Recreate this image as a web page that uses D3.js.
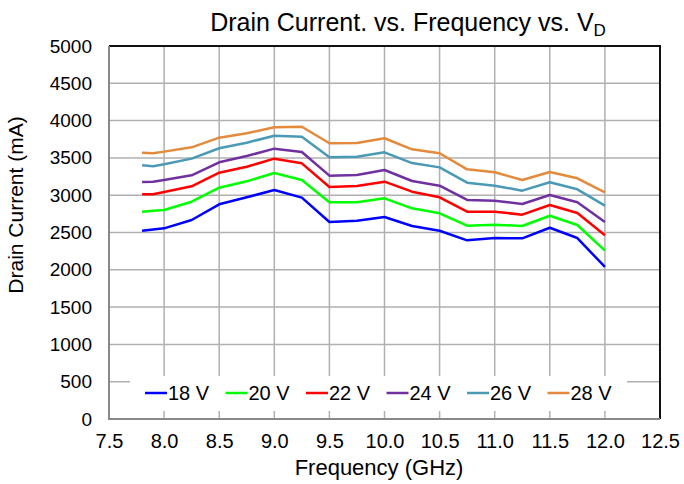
<!DOCTYPE html>
<html>
<head>
<meta charset="utf-8">
<script src="https://cdn.jsdelivr.net/npm/d3@7"></script>
<style>
  body { margin: 0; background: #fff; }
  text { font-family: "Liberation Sans", Arial, sans-serif; fill: #000; }
</style>
</head>
<body>
<svg width="684" height="484"></svg>
<script>
// data
var freqs = [7.8, 7.9, 8.0, 8.25, 8.5, 8.75, 9.0, 9.25, 9.5, 9.75, 10.0, 10.25, 10.5, 10.75, 11.0, 11.25, 11.5, 11.75, 12.0];
var labels = ["18 V", "20 V", "22 V", "24 V", "26 V", "28 V"];
var colors = ["#0000ff", "#00ff00", "#ff0000", "#7030a0", "#4a9ab5", "#e38a3c"];
var v18 = [2524, 2540, 2556, 2668, 2878, 2972, 3070, 2967, 2641, 2658, 2708, 2587, 2524, 2395, 2426, 2422, 2564, 2426, 2038];
var v20 = [2779, 2790, 2802, 2913, 3101, 3186, 3298, 3204, 2905, 2905, 2958, 2824, 2757, 2591, 2605, 2587, 2725, 2601, 2256];
var v22 = [3012, 3012, 3043, 3119, 3302, 3382, 3490, 3427, 3110, 3123, 3181, 3047, 2972, 2779, 2779, 2739, 2869, 2761, 2462];
var v24 = [3177, 3181, 3204, 3266, 3441, 3525, 3624, 3579, 3262, 3271, 3338, 3190, 3128, 2936, 2927, 2882, 3003, 2905, 2641];
var v26 = [3400, 3387, 3415, 3490, 3629, 3704, 3798, 3785, 3508, 3516, 3575, 3431, 3373, 3168, 3128, 3061, 3173, 3079, 2860];
var v28 = [3570, 3562, 3584, 3642, 3771, 3830, 3910, 3918, 3696, 3700, 3763, 3615, 3562, 3347, 3307, 3204, 3311, 3226, 3039];
var series = [v18, v20, v22, v24, v26, v28];
var xTicks = [7.5, 8.0, 8.5, 9.0, 9.5, 10.0, 10.5, 11.0, 11.5, 12.0, 12.5];
var yTicks = [0, 500, 1000, 1500, 2000, 2500, 3000, 3500, 4000, 4500, 5000];

var svg = d3.select("svg");
var pL = 109, pR = 660, pT = 46, pB = 419;

var x = d3.scaleLinear().domain([7.5, 12.5]).range([pL, pR]);
var y = d3.scaleLinear().domain([0, 5000]).range([pB, pT]);

// grid
svg.append("g")
  .selectAll("line")
  .data(xTicks)
  .enter().append("line")
    .attr("x1", function(d) { return x(d); })
    .attr("x2", function(d) { return x(d); })
    .attr("y1", pT).attr("y2", pB)
    .attr("stroke", "#b0b0b0").attr("stroke-width", 1.5);

svg.append("g")
  .selectAll("line")
  .data(yTicks)
  .enter().append("line")
    .attr("y1", function(d) { return y(d); })
    .attr("y2", function(d) { return y(d); })
    .attr("x1", pL).attr("x2", pR)
    .attr("stroke", "#b0b0b0").attr("stroke-width", 1.5);

// frame
svg.append("path")
  .attr("d", "M" + pL + "," + pT + "H" + pR + "V" + pB)
  .attr("fill", "none").attr("stroke", "#111").attr("stroke-width", 2);
svg.append("path")
  .attr("d", "M" + pL + "," + pT + "V" + pB + "H" + pR)
  .attr("fill", "none").attr("stroke", "#888").attr("stroke-width", 2);

// axes labels
var xAxis = svg.append("g")
  .attr("transform", "translate(0," + pB + ")")
  .call(d3.axisBottom(x).tickValues(xTicks).tickSize(0).tickPadding(15)
    .tickFormat(d3.format(".1f")));
xAxis.select(".domain").remove();
xAxis.selectAll("text").attr("font-size", 20).attr("font-family", "Liberation Sans, Arial, sans-serif").attr("fill", "#000");

var yAxis = svg.append("g")
  .attr("transform", "translate(" + pL + ",0)")
  .call(d3.axisLeft(y).tickValues(yTicks).tickSize(0).tickPadding(17)
    .tickFormat(d3.format("d")));
yAxis.select(".domain").remove();
yAxis.selectAll("text").attr("font-size", 19).attr("font-family", "Liberation Sans, Arial, sans-serif").attr("fill", "#000");

// lines
var line = d3.line()
  .x(function(d, i) { return x(freqs[i]); })
  .y(function(d) { return y(d); });

svg.append("g")
  .selectAll("path")
  .data(series)
  .enter().append("path")
    .attr("d", line)
    .attr("fill", "none")
    .attr("stroke", function(d, i) { return colors[i]; })
    .attr("stroke-width", 2.5)
    .attr("stroke-linejoin", "round");

// legend
var lg = svg.append("g");
lg.append("rect")
  .attr("x", 130).attr("y", 376).attr("width", 497).attr("height", 35)
  .attr("fill", "#fff");
var item = lg.selectAll("g")
  .data(labels)
  .enter().append("g")
    .attr("transform", function(d, i) { return "translate(" + (145 + i * 80.5) + ",393)"; });
item.append("line")
  .attr("x1", 0).attr("x2", 22)
  .attr("stroke", function(d, i) { return colors[i]; })
  .attr("stroke-width", 2.5);
item.append("text")
  .attr("x", 23).attr("y", 7)
  .attr("font-size", 20)
  .text(function(d) { return d; });

// titles
var title = svg.append("text")
  .attr("x", 408).attr("y", 31)
  .attr("text-anchor", "middle")
  .attr("font-size", 25);
title.append("tspan").text("Drain Current. vs. Frequency vs. V");
title.append("tspan").attr("font-size", 17).attr("dy", 5).text("D");

svg.append("text")
  .attr("x", 379).attr("y", 475)
  .attr("text-anchor", "middle")
  .attr("font-size", 22)
  .text("Frequency (GHz)");

svg.append("text")
  .attr("transform", "translate(23,205) rotate(-90)")
  .attr("text-anchor", "middle")
  .attr("font-size", 21)
  .text("Drain Current (mA)");
</script>
</body>
</html>
